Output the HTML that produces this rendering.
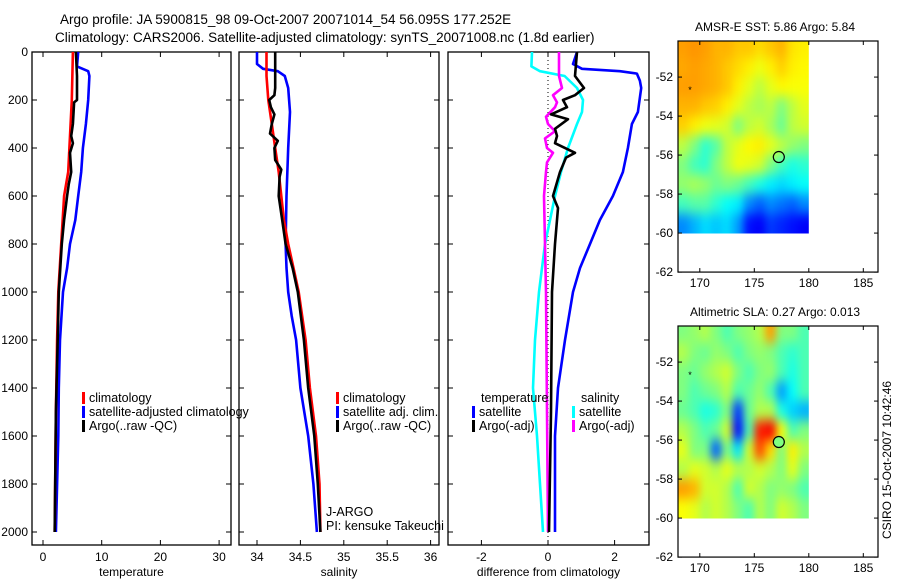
<!DOCTYPE html>
<html><head><meta charset="utf-8"><style>
body{margin:0;background:#fff}
svg{display:block;font-family:"Liberation Sans",sans-serif}
text{fill:#000}
</style></head><body>
<svg id="fig" width="900" height="580" viewBox="0 0 900 580">
<defs>
<filter id="smooth" x="0" y="0" width="1" height="1" color-interpolation-filters="sRGB"><feGaussianBlur stdDeviation="4 6" edgeMode="duplicate"/><feComponentTransfer><feFuncA type="table" tableValues="1 1"/></feComponentTransfer></filter>
<clipPath id="clipSST"><rect x="678" y="41" width="130.8" height="192.8"/></clipPath>
<clipPath id="clipSLA"><rect x="678" y="326" width="130.8" height="192.8"/></clipPath>
</defs>
<text x="60" y="24" font-size="13.5">Argo profile: JA 5900815_98 09-Oct-2007 20071014_54 56.095S 177.252E</text>
<text x="55" y="42" font-size="13.5">Climatology: CARS2006. Satellite-adjusted climatology: synTS_20071008.nc (1.8d earlier)</text>
<text x="775" y="31" font-size="12" text-anchor="middle">AMSR-E SST: 5.86 Argo: 5.84</text>
<text x="775" y="316" font-size="12" text-anchor="middle">Altimetric SLA: 0.27 Argo: 0.013</text>
<text transform="translate(891,460) rotate(-90)" font-size="12" text-anchor="middle">CSIRO 15-Oct-2007 10:42:46</text>
<g id="plots"></g>
</svg>
<script>
// ---------- profile data ----------
const depthsTClim=[0,200,400,500,600,800,1000,1200,1500,2000];
const tClim=[5.1,4.9,4.5,4.3,3.6,3.1,2.6,2.4,2.2,2.0];
const depthsTSat=[0,60,80,100,200,300,400,500,600,700,800,900,1000,1200,1400,1600,2000];
const tSat=[6.0,5.8,7.7,7.9,7.7,7.3,6.8,6.5,6.0,5.5,4.6,4.1,3.4,2.9,2.7,2.6,2.2];
const depthsTArgo=[0,100,200,210,300,350,380,420,500,550,600,700,800,1000,1200,1500,2000];
const tArgo=[5.6,5.8,5.8,5.3,5.1,4.8,5.1,4.6,4.8,4.4,4.1,3.6,3.2,2.7,2.5,2.2,2.0];

const depthsSClim=[0,100,200,300,400,500,600,700,800,900,1000,1200,1400,1600,1800,2000];
const sClim=[34.11,34.11,34.13,34.17,34.21,34.25,34.28,34.31,34.36,34.42,34.48,34.56,34.61,34.68,34.72,34.73];
const depthsSSat=[0,50,70,80,100,150,250,400,600,800,900,1000,1100,1200,1400,1600,1800,2000];
const sSat=[34.0,34.0,34.07,34.24,34.32,34.36,34.38,34.36,34.34,34.33,34.34,34.36,34.4,34.45,34.5,34.59,34.65,34.69];
const depthsSArgo=[0,150,180,200,230,260,300,340,370,400,450,490,520,600,700,800,900,1000,1200,1400,1600,1800,2000];
const sArgo=[34.21,34.21,34.2,34.14,34.16,34.2,34.17,34.15,34.24,34.2,34.21,34.28,34.26,34.25,34.29,34.33,34.41,34.47,34.54,34.59,34.66,34.7,34.73];

const depthsDSSat=[0,60,80,100,150,200,250,300,400,500,600,700,800,1000,1200,1400,1600,1800,2000];
const dSSat=[-0.48,-0.5,-0.24,0.5,0.87,1.05,1.02,0.87,0.6,0.39,0.21,0.06,-0.09,-0.27,-0.39,-0.45,-0.33,-0.24,-0.15];
const depthsDSArgo=[0,100,150,180,210,230,270,300,330,360,400,420,460,500,600,800,1000,1500,2000];
const dSArgo=[0.33,0.33,0.42,0.15,0.27,0.21,-0.06,0,0.21,-0.09,-0.03,0.15,-0.03,-0.06,-0.12,-0.09,-0.06,-0.03,0];
const depthsDTArgo=[0,100,150,180,200,230,260,280,320,350,380,420,440,500,600,650,800,1000,1500,2000];
const dTArgo=[0.87,0.81,1.08,0.81,0.45,0.57,0.09,0.6,0.21,0.27,0.21,0.81,0.54,0.36,0.15,0.3,0.21,0.12,0.09,0.03];
const depthsDTSat=[0,50,70,80,90,120,150,250,300,400,500,600,700,800,900,1000,1200,1400,1600,2000];
const dTSat=[0.87,0.75,1.02,2.16,2.67,2.76,2.8,2.7,2.52,2.4,2.25,1.95,1.56,1.26,0.96,0.75,0.51,0.3,0.21,0.21];

const depthTicks=[0,200,400,600,800,1000,1200,1400,1600,1800,2000];
const tTicks=[0,10,20,30];
const sTicks=[34,34.5,35,35.5,36];
const dTicks=[-2,0,2];

// ---------- map data (normalized colour index, rows lat -50..-60, cols lon 168..180) ----------
const sstGrid=[
[0.72,0.73,0.72,0.7,0.7,0.68,0.68,0.66,0.68,0.7,0.65,0.64],
[0.71,0.72,0.71,0.7,0.68,0.66,0.64,0.61,0.64,0.67,0.64,0.63],
[0.72,0.72,0.71,0.7,0.68,0.64,0.6,0.56,0.6,0.63,0.62,0.62],
[0.7,0.7,0.68,0.67,0.64,0.6,0.56,0.54,0.56,0.5,0.56,0.6],
[0.67,0.64,0.61,0.6,0.58,0.5,0.56,0.58,0.54,0.48,0.56,0.58],
[0.56,0.5,0.42,0.46,0.56,0.6,0.63,0.64,0.6,0.56,0.52,0.5],
[0.5,0.44,0.42,0.5,0.56,0.61,0.6,0.58,0.5,0.44,0.4,0.42],
[0.52,0.54,0.52,0.48,0.5,0.48,0.44,0.4,0.36,0.34,0.36,0.38],
[0.44,0.46,0.46,0.42,0.38,0.36,0.26,0.22,0.26,0.24,0.22,0.26],
[0.26,0.3,0.34,0.32,0.34,0.28,0.14,0.12,0.18,0.16,0.14,0.12]];
const slaGrid=[
[0.5,0.52,0.55,0.5,0.45,0.5,0.52,0.55,0.72,0.5,0.5,0.45],
[0.55,0.5,0.48,0.52,0.5,0.45,0.5,0.52,0.5,0.45,0.42,0.45],
[0.5,0.48,0.52,0.55,0.58,0.5,0.45,0.5,0.52,0.45,0.4,0.45],
[0.5,0.45,0.48,0.5,0.55,0.45,0.48,0.52,0.45,0.28,0.38,0.45],
[0.48,0.45,0.4,0.42,0.5,0.18,0.48,0.55,0.55,0.4,0.33,0.3],
[0.55,0.5,0.45,0.48,0.58,0.13,0.45,0.85,0.88,0.62,0.45,0.5],
[0.6,0.5,0.5,0.22,0.5,0.35,0.58,0.8,0.66,0.5,0.64,0.55],
[0.55,0.6,0.58,0.55,0.6,0.55,0.55,0.58,0.55,0.5,0.6,0.5],
[0.72,0.7,0.58,0.58,0.55,0.45,0.58,0.55,0.5,0.52,0.5,0.45],
[0.62,0.6,0.55,0.58,0.55,0.5,0.45,0.55,0.5,0.58,0.55,0.5]];
const lonTicks=[170,175,180,185];
const latTicks=[-52,-54,-56,-58,-60,-62];
const argoLon=177.25, argoLat=-56.1;
const starLon=169.1, starLat=-52.6;

const NS='http://www.w3.org/2000/svg';
const root=document.getElementById('plots');
function mk(tag,attrs,parent){const e=document.createElementNS(NS,tag);for(const k in attrs)e.setAttribute(k,attrs[k]);(parent||root).appendChild(e);return e;}

const yD=d=>52+d*0.24;
const panels=[
 {x0:32,x1:231,sx:v=>43+v*5.87,ticks:tTicks,lab:'temperature',name:'temperature-panel'},
 {x0:239,x1:439,sx:v=>257+(v-34)*86.8,ticks:sTicks,lab:'salinity',name:'salinity-panel'},
 {x0:448,x1:649,sx:v=>548+v*33.3,ticks:dTicks,lab:'difference from climatology',name:'difference-panel'}];
const axTop=52,axBot=545;

panels.forEach((p,i)=>{
 const g=mk('g',{});
 
 
 const r=mk('rect',{x:p.x0,y:axTop,width:p.x1-p.x0,height:axBot-axTop,fill:'none',stroke:'#000','stroke-width':1.3},g);
 
 
 depthTicks.forEach(d=>{
  const y=yD(d);
  mk('line',{x1:p.x0,x2:p.x0+5,y1:y,y2:y,stroke:'#000'},g);
  mk('line',{x1:p.x1,x2:p.x1-5,y1:y,y2:y,stroke:'#000'},g);
  if(i===0){const t=mk('text',{x:28,y:y+4,'font-size':12,'text-anchor':'end'},g);t.textContent=d;
   
   }
 });
 p.ticks.forEach(v=>{
  const x=p.sx(v);
  mk('line',{x1:x,x2:x,y1:axTop,y2:axTop+5,stroke:'#000'},g);
  mk('line',{x1:x,x2:x,y1:axBot,y2:axBot-5,stroke:'#000'},g);
  const t=mk('text',{x:x,y:561,'font-size':12,'text-anchor':'middle'},g);t.textContent=v;
  
  
 });
 const xl=mk('text',{x:(p.x0+p.x1)/2,y:576,'font-size':12,'text-anchor':'middle'},g);xl.textContent=p.lab;
 
 
});

const zl=mk('line',{x1:panels[2].sx(0),x2:panels[2].sx(0),y1:axTop,y2:axBot,stroke:'#000','stroke-dasharray':'1,3'});



function series(p,depths,vals,color,name,w){
 const pts=depths.map((d,k)=>p.sx(vals[k]).toFixed(1)+','+yD(d).toFixed(1)).join(' ');
 const l=mk('polyline',{points:pts,fill:'none',stroke:color,'stroke-width':w||2.6,'stroke-linejoin':'round'});
 
 
}
series(panels[0],depthsTSat,tSat,'#0000ff','temp-satellite-line');
series(panels[0],depthsTClim,tClim,'#ff0000','temp-climatology-line');
series(panels[0],depthsTArgo,tArgo,'#000','temp-argo-line');
series(panels[1],depthsSSat,sSat,'#0000ff','sal-satellite-line');
series(panels[1],depthsSClim,sClim,'#ff0000','sal-climatology-line');
series(panels[1],depthsSArgo,sArgo,'#000','sal-argo-line');
series(panels[2],depthsDTSat,dTSat,'#0000ff','diff-temp-satellite-line');
series(panels[2],depthsDSSat,dSSat,'#00ffff','diff-sal-satellite-line');
series(panels[2],depthsDSArgo,dSArgo,'#ff00ff','diff-sal-argo-line');
series(panels[2],depthsDTArgo,dTArgo,'#000','diff-temp-argo-line');

function legend(x,y,color,label){
 const g=mk('g',{});
 
 
 if(color) mk('rect',{x:x,y:y-10,width:3,height:12,fill:color},g);
 const t=mk('text',{x:x+7,y:y,'font-size':12.5},g);t.textContent=label;
}
legend(82,402,'#ff0000','climatology');
legend(82,416,'#0000ff','satellite-adjusted climatology');
legend(82,430,'#000','Argo(..raw -QC)');
legend(336,402,'#ff0000','climatology');
legend(336,416,'#0000ff','satellite adj. clim.');
legend(336,430,'#000','Argo(..raw -QC)');
legend(474,402,null,'temperature');
legend(472,416,'#0000ff','satellite');
legend(472,430,'#000','Argo(-adj)');
legend(574,402,null,'salinity');
legend(572,416,'#00ffff','satellite');
legend(572,430,'#ff00ff','Argo(-adj)');
const j1=mk('text',{x:326,y:516,'font-size':12.5});j1.textContent='J-ARGO';


const j2=mk('text',{x:326,y:530,'font-size':12.5});j2.textContent='PI: kensuke Takeuchi';



// ---------- maps ----------
function jet(v){
 const c=x=>Math.max(0,Math.min(1,x));
 const r=c(1.5-Math.abs(4*v-3)), g=c(1.5-Math.abs(4*v-2)), b=c(1.5-Math.abs(4*v-1));
 return `rgb(${Math.round(r*255)},${Math.round(g*255)},${Math.round(b*255)})`;
}
const lonX=l=>678+(l-168)*10.9;
function map(topY,grid,name,fillCircle,clipId){
 const latY=la=>topY+(-50.15-la)*19.5;
 const x0=678,x1=878,y0=topY,y1=latY(-62);
 const g=mk('g',{});
 
 
 const clipG=mk('g',{'clip-path':'url(#'+clipId+')'},g);
 const cells=mk('g',{filter:'url(#smooth)'},clipG);
 grid.forEach((row,ri)=>row.forEach((v,ci)=>{
  const la0=Math.min(-50.15,-50-ri), la1=-51-ri;
  const c=mk('rect',{x:lonX(168+ci),y:latY(la0),width:10.95,height:latY(la1)-latY(la0)+0.3,fill:jet(v)},cells);
  
  
 }));
 const fr=mk('rect',{x:x0,y:y0,width:x1-x0,height:y1-y0,fill:'none',stroke:'#000','stroke-width':1.2},g);
 
 
 latTicks.forEach(la=>{const y=latY(la);
  mk('line',{x1:x0,x2:x0+4,y1:y,y2:y,stroke:'#000'},g);
  mk('line',{x1:x1,x2:x1-4,y1:y,y2:y,stroke:'#000'},g);
  const t=mk('text',{x:673,y:y+4,'font-size':12,'text-anchor':'end'},g);t.textContent=la;
  
  });
 lonTicks.forEach(lo=>{const x=lonX(lo);
  mk('line',{x1:x,x2:x,y1:y0,y2:y0+4,stroke:'#000'},g);
  mk('line',{x1:x,x2:x,y1:y1,y2:y1-4,stroke:'#000'},g);
  const t=mk('text',{x:x,y:y1+15,'font-size':12,'text-anchor':'middle'},g);t.textContent=lo;
  
  });
 const m=mk('circle',{cx:lonX(argoLon),cy:latY(argoLat),r:5.5,fill:fillCircle||'none',stroke:'#000','stroke-width':1.2},g);
 
 
 const s=mk('text',{x:lonX(starLon),y:latY(starLat)+4,'font-size':9,'text-anchor':'middle'},g);s.textContent='*';
 
 
}
map(41,sstGrid,'sst-map',null,'clipSST');
map(326,slaGrid,'sla-map','#80ff80','clipSLA');
</script>
</body></html>
